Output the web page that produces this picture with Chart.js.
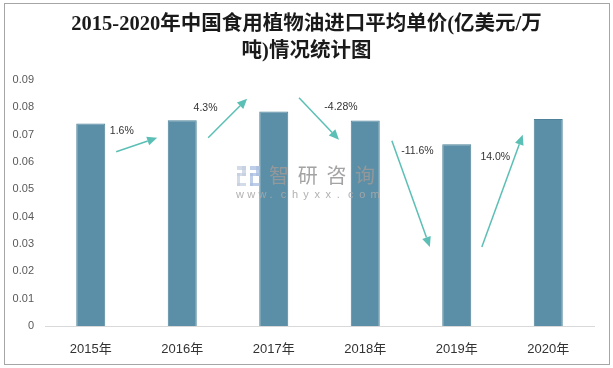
<!DOCTYPE html>
<html>
<head>
<meta charset="utf-8">
<script src="https://cdn.jsdelivr.net/npm/chart.js@4/dist/chart.umd.min.js"></script>
<style>
html,body{margin:0;padding:0;background:#fff;}
#wrap{width:613px;height:368px;position:relative;}
</style>
</head>
<body>
<div id="wrap"><canvas id="c" width="613" height="368"></canvas></div>
<script>
// ---- data ----
const categories = ['2015年', '2016年', '2017年', '2018年', '2019年', '2020年'];
const unitPrice = [0.0740, 0.0752, 0.0784, 0.0751, 0.0664, 0.0757];
const growthLabels = ['1.6%', '4.3%', '-4.28%', '-11.6%', '14.0%'];
const yTicks = [0, 0.01, 0.02, 0.03, 0.04, 0.05, 0.06, 0.07, 0.08, 0.09];
const titleLines = ['2015-2020年中国食用植物油进口平均单价(亿美元/万', '吨)情况统计图'];

// annotation geometry in data units (category index, value)
const arrowStart = [[0.278, 0.0637], [1.283, 0.0688], [2.276, 0.0834], [3.291, 0.0677], [4.274, 0.0289]];
const arrowEnd   = [[0.726, 0.0688], [1.709, 0.0831], [2.713, 0.0681], [3.706, 0.0289], [4.721, 0.0699]];
const labelPos   = [[0.339, 0.0713], [1.255, 0.0798], [2.735, 0.0801], [3.570, 0.0640], [4.421, 0.0618]];

const frame = {
  id: 'frame',
  beforeDraw(chart) {
    const ctx = chart.ctx;
    ctx.save();
    ctx.fillStyle = '#fff';
    ctx.fillRect(0, 0, chart.width, chart.height);
    ctx.strokeStyle = '#a6a6a6';
    ctx.lineWidth = 1;
    ctx.strokeRect(4.5, 3.5, 605, 361);
    ctx.restore();
  }
};

const annotations = {
  id: 'annotations',
  afterDatasetsDraw(chart) {
    const ctx = chart.ctx;
    const xs = chart.scales.x, ys = chart.scales.y;
    ctx.save();
    // watermark
    ctx.globalAlpha = 0.75;
    ctx.fillStyle = '#c4cde0';
    ctx.fillRect(237, 166, 9, 4);
    ctx.fillRect(242, 166, 4, 10);
    ctx.fillRect(237, 173, 9, 3);
    ctx.fillRect(237, 173, 3, 13);
    ctx.fillRect(237, 183, 9, 3);
    ctx.fillStyle = '#a9bde0';
    ctx.fillRect(250, 166, 10, 4);
    ctx.fillRect(256, 166, 4, 10);
    ctx.fillRect(250, 173, 10, 3);
    ctx.fillRect(250, 173, 3, 13);
    ctx.fillRect(250, 183, 10, 3);
    ctx.globalAlpha = 0.9;
    ctx.fillStyle = '#999999';
    ctx.font = '20px "Noto Sans CJK SC"';
    ctx.textAlign = 'left';
    ctx.textBaseline = 'middle';
    const wm = '智研咨询';
    for (let i = 0; i < wm.length; i++) ctx.fillText(wm[i], 269 + i * 28.7, 175);
    ctx.font = '11px "Liberation Sans"';
    ctx.fillStyle = '#a8a8a8';
    const w = 'www.chyxx.com';
    for (let i = 0; i < w.length; i++) ctx.fillText(w[i], 236 + i * 11.2, 195);
    ctx.globalAlpha = 1;

    // arrows
    ctx.strokeStyle = '#5bbfb5';
    ctx.fillStyle = '#5bbfb5';
    ctx.lineWidth = 1.5;
    for (let i = 0; i < arrowStart.length; i++) {
      const x1 = xs.getPixelForValue(arrowStart[i][0]), y1 = ys.getPixelForValue(arrowStart[i][1]);
      const x2 = xs.getPixelForValue(arrowEnd[i][0]), y2 = ys.getPixelForValue(arrowEnd[i][1]);
      const ang = Math.atan2(y2 - y1, x2 - x1);
      const L = 10, W = 4.5;
      const bx = x2 - L * Math.cos(ang), by = y2 - L * Math.sin(ang);
      ctx.beginPath();
      ctx.moveTo(x1, y1);
      ctx.lineTo(bx, by);
      ctx.stroke();
      ctx.beginPath();
      ctx.moveTo(x2, y2);
      ctx.lineTo(bx + W * Math.sin(ang), by - W * Math.cos(ang));
      ctx.lineTo(bx - W * Math.sin(ang), by + W * Math.cos(ang));
      ctx.closePath();
      ctx.fill();
    }
    // growth labels
    ctx.fillStyle = '#333';
    ctx.font = '10.5px "Liberation Sans", "DejaVu Sans"';
    ctx.textAlign = 'center';
    ctx.textBaseline = 'middle';
    for (let i = 0; i < growthLabels.length; i++) {
      ctx.fillText(growthLabels[i], xs.getPixelForValue(labelPos[i][0]), ys.getPixelForValue(labelPos[i][1]));
    }
    ctx.restore();
  }
};

new Chart(document.getElementById('c'), {
  type: 'bar',
  data: {
    labels: categories,
    datasets: [{
      data: unitPrice,
      backgroundColor: '#5b8fa7',
      borderColor: '#4f8299',
      borderWidth: 1,
      barPercentage: 1,
      categoryPercentage: 0.317
    }]
  },
  options: {
    responsive: false,
    animation: false,
    devicePixelRatio: 1,
    layout: { padding: { left: 0, right: 0, top: 0, bottom: 0 } },
    plugins: {
      legend: { display: false },
      tooltip: { enabled: false },
      title: {
        display: true,
        text: titleLines,
        color: '#1a1a1a',
        font: { size: 20.5, weight: 'bold', family: '"Liberation Serif", "Noto Sans CJK SC"', lineHeight: 1.3 },
        padding: { top: 11.5, bottom: 15 }
      }
    },
    scales: {
      x: {
        grid: { display: false, drawTicks: false },
        border: { display: true, color: '#d9d9d9', width: 1 },
        ticks: { color: '#333', font: { size: 13, family: '"Liberation Sans", "Noto Sans CJK SC"' }, padding: 16 },
        afterFit(s) { s.height = 42; }
      },
      y: {
        min: 0, max: 0.09,
        afterBuildTicks(s) { s.ticks = yTicks.map(v => ({ value: v })); },
        grid: { display: false, drawTicks: false },
        border: { display: false },
        ticks: {
          color: '#595959',
          font: { size: 11, family: '"Liberation Sans"' },
          padding: 11,
          callback: v => v === 0 ? '0' : v.toFixed(2)
        },
        afterFit(s) { s.width = 45; }
      },
      yRight: {
        position: 'right',
        display: true,
        min: 0, max: 1,
        grid: { display: false, drawTicks: false },
        border: { display: false },
        ticks: { display: false },
        afterFit(s) { s.width = 19; }
      }
    }
  },
  plugins: [frame, annotations]
});
</script>
</body>
</html>
